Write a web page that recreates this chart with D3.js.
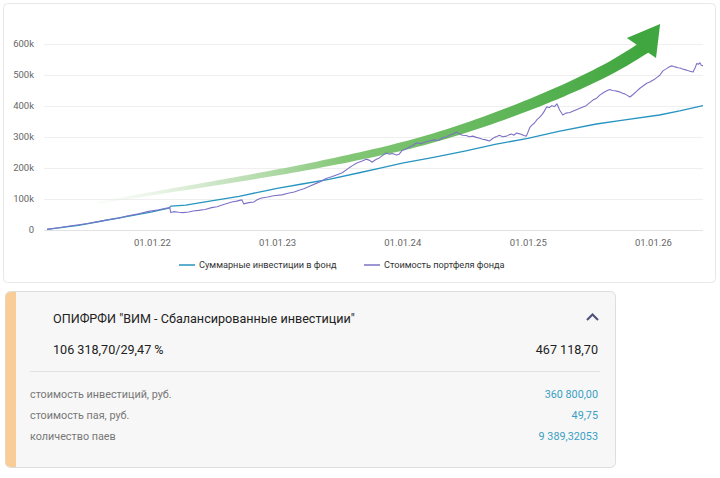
<!DOCTYPE html>
<html>
<head>
<meta charset="utf-8">
<script src="https://cdn.jsdelivr.net/npm/d3@7/dist/d3.min.js"></script>
<style>
body { margin: 0; background: #fff; font-family: Roboto, "Noto Sans", sans-serif; }
svg { display: block; }
</style>
</head>
<body>
<svg id="chart" width="720" height="478"></svg>
<script>
// invested total, thousands of rubles
var invDates = ["2021-03-01","2021-06-01","2021-08-28","2021-11-23","2022-01-01","2022-02-19","2022-02-26",
  "2022-04-10","2022-06-01","2022-09-12","2022-12-01","2023-01-01","2023-03-15","2023-06-01","2023-09-01",
  "2023-11-01","2024-01-01","2024-04-01","2024-07-01","2024-10-01","2025-01-01","2025-04-01","2025-07-20",
  "2025-10-01","2026-01-20","2026-03-20","2026-05-27"];
var invValues = [2,15,33,50,58,70,77,80,90,108,127,134,148,163,185,200,215,234,254,276,295,317,341,353,370,383,400];

// portfolio value, thousands of rubles
var portDates = ["2021-03-01","2021-04-03","2021-05-01","2021-06-01","2021-06-28","2021-07-29","2021-08-25",
  "2021-09-26","2021-10-20","2021-11-23","2021-12-23","2022-01-21","2022-02-10","2022-02-22","2022-02-25",
  "2022-03-05","2022-03-20","2022-04-01","2022-04-18","2022-05-01","2022-05-17","2022-06-05","2022-06-24",
  "2022-07-10","2022-07-29","2022-08-10","2022-08-22","2022-09-05","2022-09-20","2022-09-26","2022-10-10",
  "2022-10-25","2022-11-05","2022-11-17","2022-12-05","2022-12-22","2023-01-15","2023-02-05","2023-02-20",
  "2023-03-06","2023-03-20","2023-04-04","2023-04-25","2023-05-10","2023-05-24","2023-06-11","2023-06-25",
  "2023-07-10","2023-07-30","2023-08-10","2023-08-20","2023-09-06","2023-09-18","2023-09-28","2023-10-05",
  "2023-10-15","2023-10-26","2023-11-15","2023-11-25","2023-12-03","2023-12-15","2023-12-23","2024-01-01",
  "2024-01-10","2024-01-21","2024-02-01","2024-02-11","2024-02-25","2024-03-11","2024-03-22","2024-04-03",
  "2024-04-15","2024-04-27","2024-05-10","2024-05-17","2024-05-28","2024-06-07","2024-06-15","2024-06-24",
  "2024-07-05","2024-07-15","2024-07-25","2024-08-04","2024-08-14","2024-08-22","2024-09-01","2024-09-11",
  "2024-09-18","2024-09-26","2024-10-03","2024-10-10","2024-10-20","2024-10-31","2024-11-07","2024-11-14",
  "2024-11-22","2024-11-29","2024-12-06","2024-12-13","2024-12-20","2024-12-28","2025-01-07","2025-01-14",
  "2025-01-21","2025-01-28","2025-02-05","2025-02-12","2025-02-17","2025-02-25","2025-03-05","2025-03-12",
  "2025-03-20","2025-03-27","2025-04-04","2025-04-13","2025-04-22","2025-05-04","2025-05-14","2025-05-24",
  "2025-06-02","2025-06-11","2025-06-20","2025-07-01","2025-07-10","2025-07-21","2025-07-30","2025-08-07",
  "2025-08-14","2025-08-21","2025-08-28","2025-09-05","2025-09-12","2025-09-20","2025-09-27","2025-10-04",
  "2025-10-11","2025-10-17","2025-10-26","2025-11-04","2025-11-14","2025-11-24","2025-12-04","2025-12-14",
  "2025-12-23","2026-01-07","2026-01-14","2026-01-21","2026-01-30","2026-02-05","2026-02-11","2026-02-18",
  "2026-02-25","2026-03-02","2026-03-09","2026-03-15","2026-03-21","2026-03-28","2026-04-04","2026-04-12",
  "2026-04-19","2026-04-28","2026-05-04","2026-05-09","2026-05-13","2026-05-18","2026-05-22","2026-05-27"];
var portValues = [2,7,12,17,21,27,33,
  38,45,52,60,65,70,72,56,
  59,57,56,58,61,63,66,72,
  75,82,86,90,93,97,84,88,
  90,98,103,106,110,113,119,122,
  128,133,140,150,157,166,172,178,
  184,200,208,215,222,228,224,218,
  226,232,248,244,246,241,244,256,
  260,266,272,280,278,284,287,290,
  288,296,300,305,309,315,310,305,
  304,300,302,298,295,292,290,286,
  292,298,301,305,300,302,306,309,
  305,312,310,308,304,302,330,338,
  345,355,363,372,380,396,394,400,
  397,406,386,370,376,378,383,388,
  392,396,400,410,418,424,434,440,
  445,449,452,449,448,446,444,440,
  438,434,428,436,446,456,464,472,
  476,486,492,498,512,516,520,525,
  528,526,524,522,521,518,516,513,
  511,508,522,536,533,538,530,528];

var yTicks = [0,100,200,300,400,500,600];
var xTicks = ["2022-01-01","2023-01-01","2024-01-01","2025-01-01","2026-01-01"];
var seriesNames = ["Суммарные инвестиции в фонд","Стоимость портфеля фонда"];

// hand-drawn growth arrow, in chart coordinates
var arrowDates = ["2021-07-25","2022-03-24","2023-01-10","2023-08-31","2024-03-22","2024-10-12",
  "2025-04-05","2025-08-29","2025-12-09"];
var arrowValues = [87,132,187,238,293,367,444,521,589];
var headDates = ["2025-10-17","2026-01-22","2026-01-10"];
var headValues = [618,663,553];

var fundName = "ОПИФРФИ \"ВИМ - Сбалансированные инвестиции\"";
var fundResult = "106 318,70/29,47 %";
var fundTotal = "467 118,70";
var rowLabels = ["стоимость инвестиций, руб.","стоимость пая, руб.","количество паев"];
var rowValues = ["360 800,00","49,75","9 389,32053"];

var parse = d3.timeParse("%Y-%m-%d");
var svg = d3.select("#chart");
var blue = "#2795bf", purple = "#7d73c6";

// chart card
svg.append("rect").attr("x", 3.5).attr("y", 3.5).attr("width", 712).attr("height", 279)
  .attr("rx", 4).attr("fill", "#fff").attr("stroke", "#e8e8e8");

var x = d3.scaleTime()
  .domain([parse("2021-03-01"), parse("2026-05-27")])
  .range([47, 703]);
var y = d3.scaleLinear().domain([0, 600]).range([230, 43.5]);

// grid + y labels
var grid = svg.append("g").attr("class", "grid");
grid.selectAll("line").data(yTicks).enter().append("line")
  .attr("x1", 44).attr("x2", 703)
  .attr("y1", function(d){ return Math.round(y(d)) + 0.5; })
  .attr("y2", function(d){ return Math.round(y(d)) + 0.5; })
  .attr("stroke", function(d){ return d == 0 ? "#e2e2e2" : "#efefef"; });
grid.selectAll("text").data(yTicks).enter().append("text")
  .attr("x", 34).attr("y", function(d){ return y(d); })
  .attr("dy", "0.35em")
  .style("text-anchor", "end")
  .style("font-size", "9.5px").style("fill", "#666")
  .text(function(d){ return d == 0 ? "0" : d + "k"; });

// x axis labels
var xa = svg.append("g").attr("transform", "translate(0,236)")
  .call(d3.axisBottom(x).tickValues(xTicks.map(parse)).tickFormat(d3.timeFormat("%d.%m.%y")).tickSize(0));
xa.select(".domain").remove();
xa.selectAll("text").style("font-size", "9.5px").style("fill", "#666")
  .style("font-family", "Roboto, sans-serif");

// arrow
var defs = svg.append("defs");
var apts = arrowDates.map(function(d, i){ return [x(parse(d)), y(arrowValues[i])]; });
var grad = defs.append("linearGradient").attr("id", "arrowgrad")
  .attr("gradientUnits", "userSpaceOnUse")
  .attr("x1", apts[0][0]).attr("x2", apts[apts.length - 1][0]).attr("y1", 0).attr("y2", 0);
[[0, "#e6f2e2", 0.2], [0.22, "#b9dcb0", 0.75], [0.45, "#7dc46f", 0.95], [1, "#3fa63e", 1]].forEach(function(s){
  grad.append("stop").attr("offset", s[0]).attr("stop-color", s[1]).attr("stop-opacity", s[2]);
});

var helper = svg.append("path").attr("d", d3.line().curve(d3.curveNatural)(apts)).attr("fill", "none");
var node = helper.node(), len = node.getTotalLength(), n = 90;
var left = [], right = [];
for (var i = 0; i <= n; i++) {
  var t = i / n;
  var p = node.getPointAtLength(t * len);
  var q = node.getPointAtLength(Math.min(len, t * len + 1));
  var o = node.getPointAtLength(Math.max(0, t * len - 1));
  var dx = q.x - o.x, dy = q.y - o.y, dl = Math.sqrt(dx * dx + dy * dy) || 1;
  var w = (2 + 11 * Math.pow(t, 0.9)) / 2;
  left.push([p.x - dy / dl * w, p.y + dx / dl * w]);
  right.push([p.x + dy / dl * w, p.y - dx / dl * w]);
}
helper.remove();
svg.append("path")
  .attr("d", "M" + left.concat(right.reverse()).map(function(p){ return p.join(","); }).join("L") + "Z")
  .attr("fill", "url(#arrowgrad)");
svg.append("path")
  .attr("d", "M" + headDates.map(function(d, i){ return x(parse(d)) + "," + y(headValues[i]); }).join("L") + "Z")
  .attr("fill", "#40a63f");

// lines
var line = d3.line()
  .x(function(d){ return x(d[0]); })
  .y(function(d){ return y(d[1]); });
svg.append("path")
  .datum(invDates.map(function(d, i){ return [parse(d), invValues[i]]; }))
  .attr("d", line).attr("fill", "none").attr("stroke", blue).attr("stroke-width", 1.3);
svg.append("path")
  .datum(portDates.map(function(d, i){ return [parse(d), portValues[i]]; }))
  .attr("d", line).attr("fill", "none").attr("stroke", purple).attr("stroke-width", 1.1)
  .attr("stroke-linejoin", "round");

// legend
var lx = [185, 370];
var legend = svg.append("g").attr("class", "legendgroup");
seriesNames.forEach(function(name, i){
  legend.append("line").attr("x1", lx[i] - 6).attr("x2", lx[i] + 10).attr("y1", 265).attr("y2", 265)
    .attr("stroke", i == 0 ? blue : purple).attr("stroke-width", 1.5);
  legend.append("text").attr("x", lx[i] + 14).attr("y", 265).attr("dy", "0.35em")
    .style("font-size", "9.2px").style("fill", "#333").text(name);
});

// fund card
var card = svg.append("g").attr("class", "card");
card.append("rect").attr("x", 5.5).attr("y", 291.5).attr("width", 610).attr("height", 176)
  .attr("rx", 5).attr("fill", "#f7f7f7").attr("stroke", "#dedede");
card.append("path").attr("d", "M10.5,292 L16,292 L16,467 L10.5,467 A5,5 0 0 1 5.5,462 L5.5,297 A5,5 0 0 1 10.5,292 Z")
  .attr("fill", "#f9cd97");
card.append("text").attr("x", 53).attr("y", 323).style("font-size", "12.6px").style("fill", "#222").text(fundName);
card.append("path").attr("d", "M587,320 L592.5,314.5 L598,320").attr("fill", "none")
  .attr("stroke", "#4d5077").attr("stroke-width", 2);
card.append("text").attr("x", 53).attr("y", 354).style("font-size", "12.6px").style("fill", "#222").text(fundResult);
card.append("text").attr("x", 598).attr("y", 354).style("text-anchor", "end")
  .style("font-size", "12.6px").style("fill", "#222").text(fundTotal);
card.append("line").attr("x1", 30).attr("x2", 600).attr("y1", 371.5).attr("y2", 371.5).attr("stroke", "#e2e2e2");
var rowY = [398, 419, 440];
rowLabels.forEach(function(lbl, i){
  card.append("text").attr("x", 30).attr("y", rowY[i]).style("font-size", "10.8px").style("fill", "#777").text(lbl);
  card.append("text").attr("x", 598).attr("y", rowY[i]).style("text-anchor", "end")
    .style("font-size", "10.8px").style("fill", "#3a9fc3").text(rowValues[i]);
});
</script>
</body>
</html>
